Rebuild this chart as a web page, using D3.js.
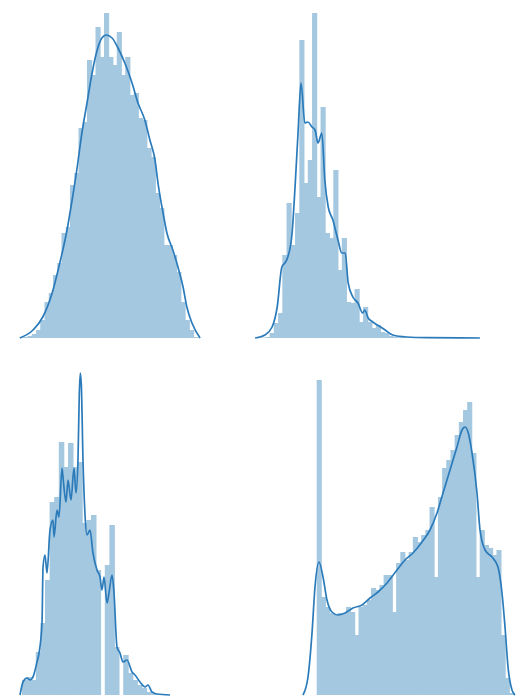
<!DOCTYPE html>
<html>
<head>
<meta charset="utf-8">
<script src="https://cdn.jsdelivr.net/npm/d3@7"></script>
<style>
body { margin: 0; background: #fff; }
</style>
</head>
<body>
<div></div>
<script>
// bin heights for each histogram, bin i covers [i, i+1] in bin units
var hist1 = [0.5, 1, 2, 4, 8, 18, 36, 45, 63, 75, 105, 111, 153, 165, 210, 216, 278, 263, 311, 281,
             325, 281, 273, 306, 263, 281, 243, 245, 220, 218, 190, 181, 145, 130, 93, 93, 83, 66, 36, 18, 8, 1];
var hist2 = [0.3, 0.5, 1, 5, 15, 25, 83, 135, 93, 125, 298, 155, 178, 325, 141, 231, 105, 100, 168, 68,
             100, 36, 35, 49, 16, 31, 16, 10, 13, 6, 5, 2, 1, 0.8, 0.6, 0.5, 0.5, 0.4, 0.3, 0.3,
             0.3, 0.2, 0.2, 0.2, 0.2, 0.1, 0.1, 0.1, 0.1, 0.1, 0.1, 0.1];
var hist3 = [15, 18, 15, 43, 72, 115, 193, 198, 253, 228, 252, 228, 233, 172, 175, 180, 125, 0, 130, 170,
             48, 0, 40, 22, 15, 10, 7, 3, 1.5, 0.7, 0.4, 0.2];
var hist4 = [315, 98, 88, 82, 80, 82, 82, 88, 83, 60, 88, 90, 95, 107, 105, 110, 120, 120, 83, 132,
             143, 135, 143, 158, 153, 160, 165, 188, 118, 198, 227, 235, 245, 260, 273, 285, 293, 242, 118, 165,
             150, 147, 140, 145, 60, 17, 2];

// density curves, x in bin units, y in the same height units
var kde1X = [0.2, 3.3, 5.6, 7.8, 9.6, 11.3, 12.5, 13.6, 14.8, 16.0, 17.2, 18.4, 19.5, 20.5, 21.9, 23.3,
             24.9, 26.6, 28.0, 29.6, 30.8, 32.0, 32.7, 33.9, 34.8, 36.2, 37.4, 38.6, 39.5, 40.7, 42.6];
var kde1Y = [0, 8, 21, 45, 75, 108, 138, 168, 205, 235, 265, 288, 300, 303, 300, 290,
             275, 255, 235, 218, 198, 178, 155, 125, 105, 88, 71, 51, 31, 15, 0];

var kde2X = [-0.4, 1.9, 3.6, 4.8, 5.9, 6.6, 7.3, 8.3, 9.0, 9.7, 10.4, 11.3, 12.0, 13.0, 13.7, 14.4,
             15.3, 16.0, 16.8, 17.9, 19.1, 20.0, 20.8, 21.5, 22.6, 23.8, 24.9, 25.4, 26.2, 27.3, 29.5,
             30.2, 32.0, 35.3, 40.1, 52.5];
var kde2Y = [0, 3, 11, 31, 71, 75, 81, 105, 151, 205, 255, 215, 216, 211, 208, 195,
             205, 158, 131, 118, 98, 85, 85, 55, 41, 35, 25, 28, 20, 16, 10,
             8, 3, 1, 0.3, 0];

var kde3X = [-0.43, 0.22, 1.09, 1.74, 2.39, 3.26, 3.7, 4.35, 4.57, 5.0, 5.43, 6.09, 6.74, 6.96, 7.61, 8.04,
             8.7, 8.91, 9.57, 10.0, 10.65, 11.3, 11.74, 12.17, 12.45, 12.67, 12.9, 13.26, 13.7, 14.13, 14.78,
             15.43, 16.3, 16.96, 17.39, 17.83, 18.48, 18.91, 19.57, 20.0, 20.65, 21.3, 21.96, 22.83, 23.91,
             24.57, 25.65, 26.74, 27.39, 28.26, 29.35, 32.17];
var kde3Y = [0, 13, 17, 15, 18, 33, 42, 72, 128, 140, 122, 165, 175, 158, 185, 178,
             227, 218, 193, 215, 195, 227, 202, 235, 300, 322, 310, 235, 180, 160, 165,
             142, 125, 118, 105, 118, 92, 102, 120, 102, 48, 42, 33, 35, 23,
             20, 13, 8, 10, 3, 1, 0];

var kde4X = [-3.28, -2.08, -1.12, -0.41, 0.55, 1.51, 2.46, 3.66, 5.1, 6.77, 8.68, 10.84, 12.75, 14.66,
             16.82, 19.21, 21.12, 23.04, 25.19, 27.1, 28.78, 30.22, 31.89, 33.56, 34.76, 35.48, 36.2,
             37.16, 38.35, 39.07, 40.27, 41.94, 43.37, 44.33, 45.05, 45.77, 46.72, 47.44];
var kde4Y = [0, 18, 62, 108, 133, 118, 95, 83, 80, 82, 87, 90, 97, 103,
             112, 125, 135, 142, 153, 165, 182, 202, 225, 248, 265, 268, 263,
             242, 202, 165, 145, 138, 128, 102, 68, 28, 5, 0];

var barColor = "#a5c8e1";
var lineColor = "#2b7bba";

// where each panel sits: first bin edge, bin width, baseline
var panels = [
    {bins: hist1, kx: kde1X, ky: kde1Y, left: 19, binW: 4.25, base: 338},
    {bins: hist2, kx: kde2X, ky: kde2Y, left: 256.8, binW: 4.25, base: 338},
    {bins: hist3, kx: kde3X, ky: kde3Y, left: 22, binW: 4.6, base: 695},
    {bins: hist4, kx: kde4X, ky: kde4Y, left: 316.7, binW: 4.18, base: 695}
];

var svg = d3.select("div").append("svg")
        .attr("width", 523)
        .attr("height", 697)
        .style("display", "block");

svg.append("rect")
    .attr("width", 523)
    .attr("height", 697)
    .attr("fill", "#ffffff");

panels.forEach(function(p) {
    var n = p.bins.length;
    var x = d3.scaleLinear()
            .domain([0, n])
            .range([p.left, p.left + n * p.binW]);
    var y = d3.scaleLinear()
            .domain([0, 100])
            .range([p.base, p.base - 100]);

    var g = svg.append("g");

    // bars overlap a little so no seams show between them
    g.selectAll("rect")
        .data(p.bins)
        .enter().append("rect")
        .attr("x", function(d, i) { return x(i); })
        .attr("width", function(d, i) { return x(i + 1) - x(i) + 0.9; })
        .attr("y", function(d) { return y(d); })
        .attr("height", function(d) { return y(0) - y(d); })
        .attr("fill", barColor);

    var pts = p.kx.map(function(v, i) { return [v, p.ky[i]]; });
    var line = d3.line()
            .x(function(d) { return x(d[0]); })
            .y(function(d) { return y(d[1]); })
            .curve(d3.curveMonotoneX);

    g.append("path")
        .attr("d", line(pts))
        .attr("fill", "none")
        .attr("stroke", lineColor)
        .attr("stroke-width", 1.7)
        .attr("stroke-linejoin", "round");
});
</script>
</body>
</html>
